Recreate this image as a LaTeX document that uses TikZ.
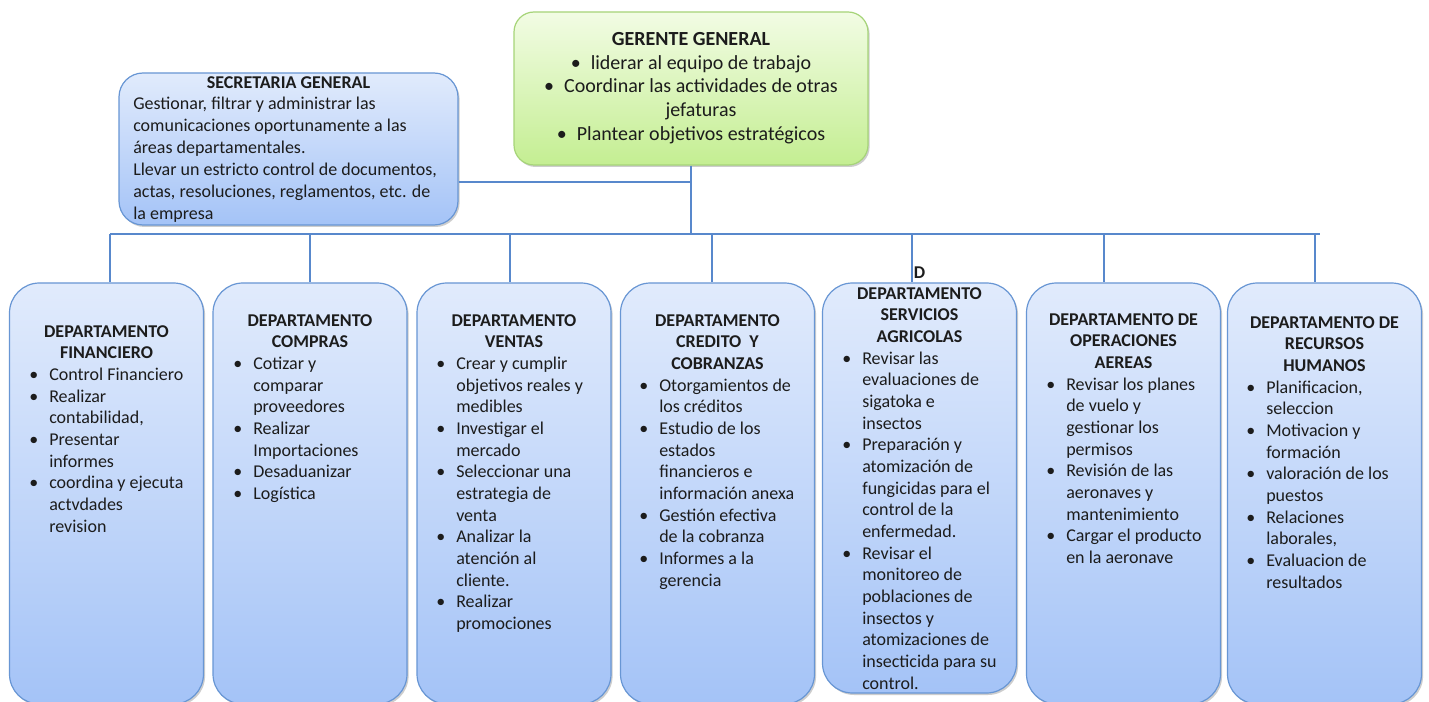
\documentclass[tikz,border=0pt]{standalone}
\usepackage{fontspec}
\setmainfont{Carlito}
\usetikzlibrary{shadows}
\definecolor{deptTop}{RGB}{225,235,252}
\definecolor{deptBot}{RGB}{164,195,247}
\definecolor{deptBorder}{RGB}{104,150,212}
\definecolor{lineCol}{RGB}{88,136,204}
\definecolor{gerTop}{RGB}{242,252,228}
\definecolor{gerBot}{RGB}{196,238,146}
\definecolor{gerBorder}{RGB}{166,212,120}
\definecolor{txtCol}{RGB}{28,28,28}
\newcommand\bul{\makebox[15pt][l]{\textbullet}}
\newcommand\indt{\hspace*{15pt}}
\begin{document}
\begin{tikzpicture}[x=0.75pt,y=-0.75pt,
  every node/.style={text=txtCol},
  shadowed/.style={drop shadow={shadow xshift=1.2pt,shadow yshift=-1.5pt,opacity=0.28,fill=black!70}},
  deptbox/.style={draw=deptBorder,line width=0.9pt,rounded corners=22.5pt,
    top color=deptTop,bottom color=deptBot,minimum width=145.5pt,minimum height=315.75pt,
    inner sep=0pt,shadowed},
  secbox/.style={deptbox,rounded corners=18pt,minimum width=254.25pt,minimum height=114pt},
  gerbox/.style={draw=gerBorder,line width=0.9pt,rounded corners=15pt,
    top color=gerTop,bottom color=gerBot,minimum width=265.5pt,minimum height=114.75pt,
    inner sep=0pt,shadowed},
  headtxt/.style={anchor=north,align=center,inner sep=0pt,
    font=\fontsize{13.5pt}{16.25pt}\selectfont\bfseries},
  listtxt/.style={anchor=north west,align=left,inner sep=0pt,
    font=\fontsize{13.5pt}{16.25pt}\selectfont},
  conn/.style={draw=lineCol,line width=1.1pt}
]
\useasboundingbox[fill=white] (0,0) rectangle (1429,702);

% top boxes
\node[gerbox] (ger) at (691,88.5) {};
\node[secbox] (sec) at (288.5,149) {};
\node[anchor=north,align=center,inner sep=0pt,font=\fontsize{15pt}{17.7pt}\selectfont] (gertxt) at (691,29)
  {\strut\textbf{GERENTE GENERAL}\\
   \bul liderar al equipo de trabajo\\
   \bul Coordinar las actividades de otras\\
   \hspace*{15pt}jefaturas\\
   \bul Plantear objetivos estrat\'egicos};
\node[anchor=base,inner sep=0pt,font=\fontsize{13.5pt}{16.5pt}\selectfont\bfseries] (sechead) at (288.5,88.5) {SECRETARIA GENERAL};
\node[anchor=north west,align=left,inner sep=0pt,font=\fontsize{13.5pt}{16.5pt}\selectfont] (sectxt) at (133,93.6)
  {\strut Gestionar, filtrar y administrar las\\
   comunicaciones oportunamente a las\\
   \'areas departamentales.\\
   Llevar un estricto control de documentos,\\
   actas, resoluciones, reglamentos, etc. de\\
   la empresa};

% department boxes
\node[deptbox] (d1) at (106.5,493.5) {};
\node[deptbox] (d2) at (310,493.5) {};
\node[deptbox] (d3) at (514,493.5) {};
\node[deptbox] (d4) at (717.5,493.5) {};
\node[deptbox,minimum height=307.5pt] (d5) at (919.5,488) {};
\node[deptbox] (d6) at (1123.5,493.5) {};
\node[deptbox] (d7) at (1324.5,493.5) {};

% connectors
\coordinate (bus) at (110,234);
\coordinate (busR) at (1320,234);
\coordinate (sj) at (691,182);
\coordinate (b1) at (110,234);
\coordinate (b2) at (310,234);
\coordinate (b3) at (510,234);
\coordinate (b4) at (712,234);
\coordinate (b5) at (912,234);
\coordinate (b6) at (1104,234);
\coordinate (b7) at (1315,234);
\draw[conn] (ger.south) -- (ger.south |- bus);
\draw[conn] (sj -| sec.east) -- (sj);
\draw[conn] (bus) -- (busR);
\foreach \i in {1,...,7}{\draw[conn] (b\i) -- (b\i |- d\i.north);}

% department texts
\node[headtxt] (h1) at (106.5,321.8) {\strut DEPARTAMENTO\\FINANCIERO};
\node[listtxt] (l1) at (29,365.1)
  {\strut\bul Control Financiero\\
   \bul Realizar\\
   \indt contabilidad,\\
   \bul Presentar\\
   \indt informes\\
   \bul coordina y ejecuta\\
   \indt actvdades\\
   \indt revision};

\node[headtxt] (h2) at (310,310.8) {\strut DEPARTAMENTO\\COMPRAS};
\node[listtxt] (l2) at (233,354.2)
  {\strut\bul Cotizar y\\
   \indt comparar\\
   \indt proveedores\\
   \bul Realizar\\
   \indt Importaciones\\
   \bul Desaduanizar\\
   \bul Log\'istica};

\node[headtxt] (h3) at (514,310.8) {\strut DEPARTAMENTO\\VENTAS};
\node[listtxt] (l3) at (436,354.2)
  {\strut\bul Crear y cumplir\\
   \indt objetivos reales y\\
   \indt medibles\\
   \bul Investigar el\\
   \indt mercado\\
   \bul Seleccionar una\\
   \indt estrategia de\\
   \indt venta\\
   \bul Analizar la\\
   \indt atenci\'on al\\
   \indt cliente.\\
   \bul Realizar\\
   \indt promociones};

\node[headtxt] (h4) at (717.5,310.8) {\strut DEPARTAMENTO\\CREDITO\ \ Y\\COBRANZAS};
\node[listtxt] (l4) at (639,375.8)
  {\strut\bul Otorgamientos de\\
   \indt los cr\'editos\\
   \bul Estudio de los\\
   \indt estados\\
   \indt financieros e\\
   \indt informaci\'on anexa\\
   \bul Gesti\'on efectiva\\
   \indt de la cobranza\\
   \bul Informes a la\\
   \indt gerencia};

\node[anchor=base,inner sep=0pt,font=\fontsize{13.5pt}{16.25pt}\selectfont\bfseries] (d5d) at (919.5,278.5) {D};
\node[headtxt] (h5) at (919.5,283.8) {\strut DEPARTAMENTO\\SERVICIOS\\AGRICOLAS};
\node[listtxt] (l5) at (842,348.8)
  {\strut\bul Revisar las\\
   \indt evaluaciones de\\
   \indt sigatoka e\\
   \indt insectos\\
   \bul Preparaci\'on y\\
   \indt atomizaci\'on de\\
   \indt fungicidas para el\\
   \indt control de la\\
   \indt enfermedad.\\
   \bul Revisar el\\
   \indt monitoreo de\\
   \indt poblaciones de\\
   \indt insectos y\\
   \indt atomizaciones de\\
   \indt insecticida para su\\
   \indt control.};

\node[headtxt] (h6) at (1123.5,309.8) {\strut DEPARTAMENTO DE\\OPERACIONES\\AEREAS};
\node[listtxt] (l6) at (1046,374.8)
  {\strut\bul Revisar los planes\\
   \indt de vuelo y\\
   \indt gestionar los\\
   \indt permisos\\
   \bul Revisi\'on de las\\
   \indt aeronaves y\\
   \indt mantenimiento\\
   \bul Cargar el producto\\
   \indt en la aeronave};

\node[headtxt] (h7) at (1324.5,312.8) {\strut DEPARTAMENTO DE\\RECURSOS\\HUMANOS};
\node[listtxt] (l7) at (1246,377.8)
  {\strut\bul Planificacion,\\
   \indt seleccion\\
   \bul Motivacion y\\
   \indt formaci\'on\\
   \bul valoraci\'on de los\\
   \indt puestos\\
   \bul Relaciones\\
   \indt laborales,\\
   \bul Evaluacion de\\
   \indt resultados};
\end{tikzpicture}
\end{document}
